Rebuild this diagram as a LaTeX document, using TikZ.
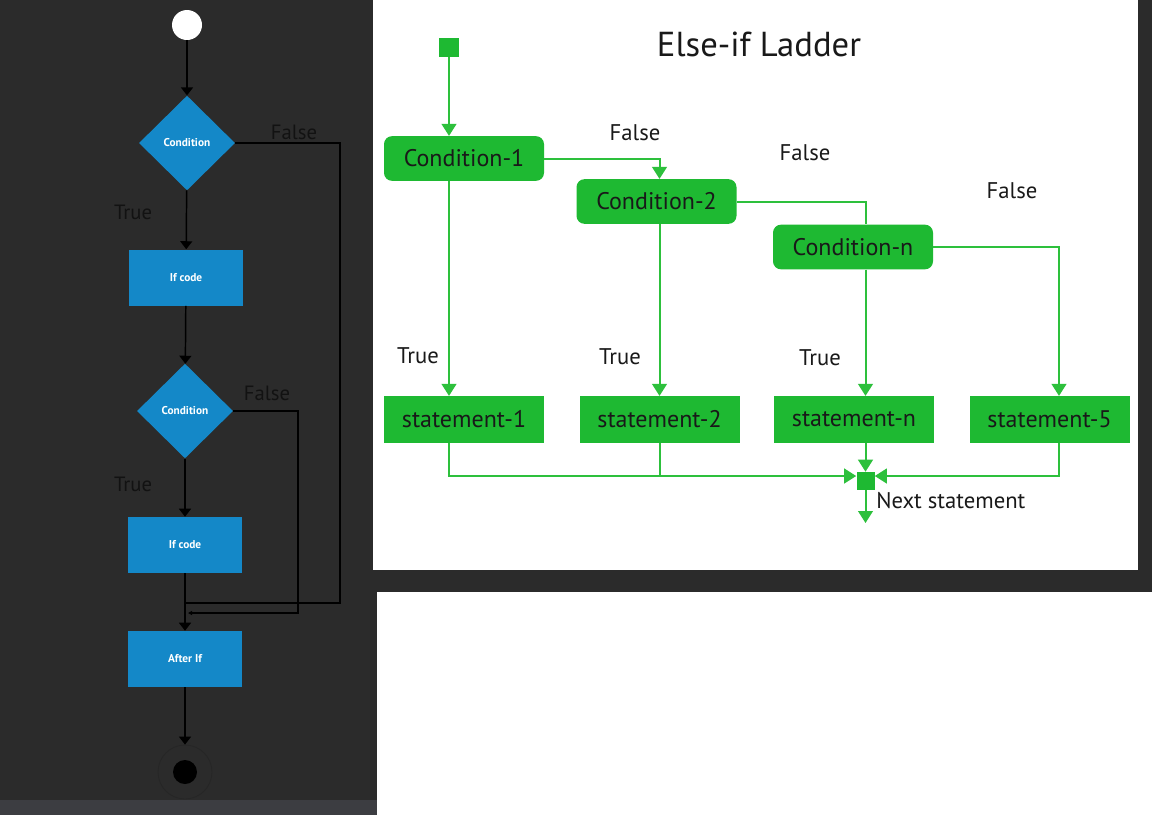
\documentclass[tikz,border=0pt]{standalone}
\usepackage{fontspec}
\setmainfont{PT Sans}
\usetikzlibrary{arrows.meta,shapes.geometric,positioning}

\definecolor{panelbg}{RGB}{43,43,43}
\definecolor{stripbg}{RGB}{60,61,65}
\definecolor{flowblue}{RGB}{20,136,200}
\definecolor{ladfill}{RGB}{30,185,50}
\definecolor{ladline}{RGB}{45,192,60}
\definecolor{labdark}{RGB}{18,18,18}
\definecolor{labtext}{RGB}{25,25,25}

\tikzset{
  blueact/.style={rectangle,fill=flowblue,text=white,inner sep=0pt,
    minimum width=85pt,minimum height=42pt,
    font=\bfseries\fontsize{8.5}{10}\selectfont},
  bluecond/.style={diamond,aspect=1,fill=flowblue,text=white,inner sep=0pt,
    minimum width=72pt,minimum height=71pt,
    font=\bfseries\fontsize{8.5}{10}\selectfont},
  darklabel/.style={text=labdark,font=\fontsize{15.5}{18}\selectfont},
  darkline/.style={draw=black,line width=1.1pt},
  darkflow/.style={darkline,-{Triangle[width=9pt,length=6pt]}},
  gcond/.style={rectangle,rounded corners=6pt,fill=ladfill,text=labtext,inner sep=0pt,
    minimum width=120pt,minimum height=33.5pt,font=\fontsize{18}{21}\selectfont},
  gstate/.style={rectangle,fill=ladfill,text=labtext,inner sep=0pt,
    minimum width=120pt,minimum height=35pt,font=\fontsize{18}{21}\selectfont},
  gsquare/.style={rectangle,fill=ladfill,inner sep=0pt,minimum width=#1,minimum height=#1},
  greenlabel/.style={text=labtext,font=\fontsize{17}{20}\selectfont},
  greenline/.style={draw=ladline,line width=1.5pt},
  greenflow/.style={greenline,-{Triangle[width=11pt,length=9pt]}}
}

\begin{document}
\begin{tikzpicture}[x=0.75pt,y=-0.75pt]
   \useasboundingbox (0,0) rectangle (1152,815);
   % \draw[help lines,step=50] (0,0) grid (1152,815);
   % background panels
   \fill[panelbg] (0,0) rectangle (1152,815);
   \fill[stripbg] (0,800) rectangle (377,815);
   \fill[white] (373,0) rectangle (1138,570);
   \fill[white] (377,592) rectangle (1152,815);

   % left: if flow
   \node[circle,fill=white,inner sep=0pt,minimum size=22.5pt] (start) at (187,25) {};
   \node[bluecond] (cond1) at (187,143) {Condition};
   \node[blueact] (code1) at (186,277.5) {If code};
   \node[bluecond] (cond2) at (185,411) {Condition};
   \node[blueact] (code2) at (185,545) {If code};
   \node[blueact] (after) at (185,659) {After If};
   \node[circle,draw=black!85,line width=0.6pt,inner sep=0pt,minimum size=40.5pt] (stop) at (185,772) {};
   \node[circle,fill=black,inner sep=0pt,minimum size=18pt] (stopdot) at (stop) {};

   \draw[darkflow] (start) -- (cond1);
   \draw[darkflow] (cond1) -- (code1);
   \draw[darkflow] (code1) -- (cond2);
   \draw[darkflow] (cond2) -- (code2);
   \draw[darkflow] (code2) -- (after);
   \draw[darkflow] (after) -- (stop);

   \coordinate (fouter) at (340,603);
   \coordinate (mouter) at (186,603);
   \coordinate (finner) at (298,613);
   \coordinate (minner) at (188,613);
   \draw[darkline] (cond1.east) -| (fouter) -- (mouter);
   \draw[darkline,line width=0.8pt,-{Triangle[width=3pt,length=3pt]}] (cond2.east) -| (finner) -- (minner);

   \node[darklabel] (lfalse1) at (294,132) {False};
   \node[darklabel] (ltrue1) at (133,212) {True};
   \node[darklabel] (lfalse2) at (267,393) {False};
   \node[darklabel] (ltrue2) at (133,484) {True};

   % right: else-if ladder
   \node[text=labtext,font=\fontsize{26}{30}\selectfont] (title) at (759,44) {Else-if Ladder};
   \node[gsquare=14.5pt] (gstart) at (449,47.5) {};
   \node[gcond] (c1) at (464,158.5) {Condition-1};
   \node[gcond] (c2) at (656.5,201.5) {Condition-2};
   \node[gcond] (cn) at (853,247) {Condition-n};
   \node[gstate] (s1) at (464,419.5) {statement-1};
   \node[gstate] (s2) at (659.5,419.5) {statement-2};
   \node[gstate] (sn) at (854,419.5) {statement-n};
   \node[gstate] (s5) at (1049.5,419.5) {statement-5};
   \node[gsquare=13.5pt] (nxt) at (865.5,481) {};
   \coordinate (kfive) at (1059,476);
   \coordinate (nout) at (865.5,523);

   \draw[greenflow] (gstart) -- (gstart |- c1.north);
   \draw[greenflow] (gstart |- c1.south) -- (gstart |- s1.north);
   \draw[greenflow] (c1.east) -| (s2 |- c2.north);
   \draw[greenflow] (s2 |- c2.south) -- (s2.north);
   \draw[greenline] (c2.east) -| (nxt |- cn.north);
   \draw[greenflow] (nxt |- cn.south) -- (nxt |- sn.north);
   \draw[greenflow] (cn.east) -| (kfive |- s5.north);

   \draw[greenflow] (gstart |- s1.south) -- (gstart |- kfive) -- (kfive -| nxt.west);
   \draw[greenline] (s2.south) -- (s2 |- kfive);
   \draw[greenflow] (nxt |- sn.south) -- (nxt.north);
   \draw[greenflow] (kfive |- s5.south) -- (kfive) -- (kfive -| nxt.east);
   \draw[greenflow] (nxt.south) -- (nout);

   \node[greenlabel] (rfalse1) at (635,133) {False};
   \node[greenlabel] (rfalse2) at (805,153) {False};
   \node[greenlabel] (rfalse3) at (1012,191) {False};
   \node[greenlabel] (rtrue1) at (418,356) {True};
   \node[greenlabel] (rtrue2) at (620,357) {True};
   \node[greenlabel] (rtrue3) at (820,358) {True};
   \node[greenlabel,anchor=west,inner sep=0pt] (nlabel) at (876,501) {Next statement};
\end{tikzpicture}
\end{document}
